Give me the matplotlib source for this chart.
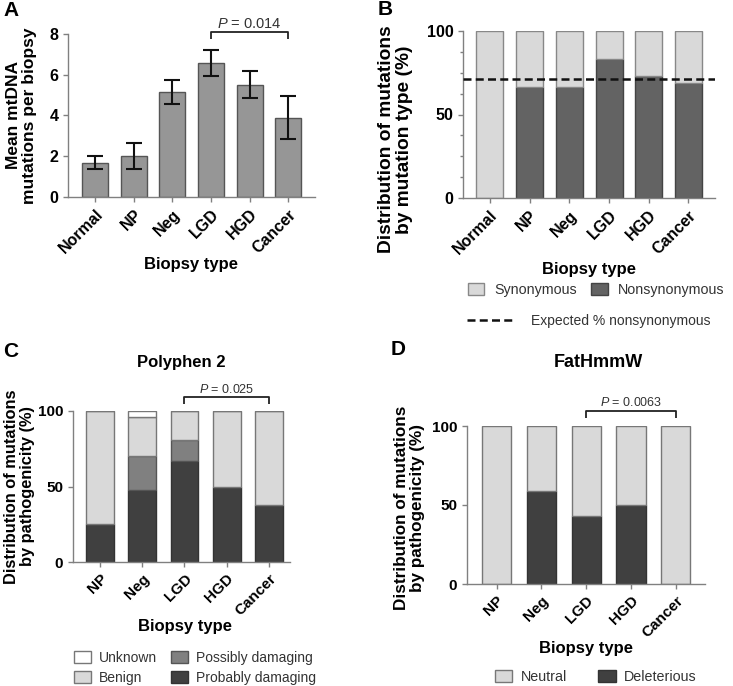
import matplotlib
matplotlib.use("Agg")
import matplotlib.pyplot as plt
from matplotlib.patches import Patch
from matplotlib.lines import Line2D
from matplotlib.ticker import MultipleLocator

plt.rcParams['font.family'] = ['Liberation Sans', 'DejaVu Sans']
plt.rcParams['mathtext.fontset'] = 'custom'
plt.rcParams['mathtext.it'] = 'Liberation Sans:italic'
plt.rcParams['mathtext.rm'] = 'Liberation Sans'

# ---------------- data ----------------
cats_a = ["Normal", "NP", "Neg", "LGD", "HGD", "Cancer"]
mean_a = [1.67, 2.01, 5.15, 6.56, 5.50, 3.88]
err_lo_a = [1.35, 1.39, 4.57, 5.92, 4.86, 2.83]
err_hi_a = [2.02, 2.63, 5.73, 7.22, 6.16, 4.95]

cats_b = ["Normal", "NP", "Neg", "LGD", "HGD", "Cancer"]
nonsyn_b = [0, 66.7, 66.7, 83, 73, 69]
syn_b = [100, 33.3, 33.3, 17, 27, 31]
expected_b = 71

cats_c = ["NP", "Neg", "LGD", "HGD", "Cancer"]
prob_c = [25, 48, 67, 50, 37.5]
poss_c = [0, 22, 14, 0, 0]
benign_c = [75, 26, 19, 50, 62.5]
unknown_c = [0, 4, 0, 0, 0]

cats_d = ["NP", "Neg", "LGD", "HGD", "Cancer"]
deleter_d = [0, 59, 43, 50, 0]
neutral_d = [100, 41, 57, 50, 100]

# ---------------- style ----------------
W, H = 733, 686
fig = plt.figure(figsize=(W / 100, H / 100), dpi=100)
AX_GRAY = '#808080'
EDGE = '#555555'
LIGHT = '#d9d9d9'
MID_A = '#969696'
DARK_B = '#636363'
DARK = '#404040'
POSS = '#808080'
TXT = '#333333'
DASH = (3.2, 1.7)


def add_ax(l, t, r, b):
    return fig.add_axes([l / W, 1 - b / H, (r - l) / W, (b - t) / H])


def style(ax, tick_fs):
    for s in ['top', 'right']:
        ax.spines[s].set_visible(False)
    for s in ['left', 'bottom']:
        ax.spines[s].set_color(AX_GRAY)
        ax.spines[s].set_linewidth(1.0)
    ax.tick_params(axis='both', which='both', colors=AX_GRAY, length=3.5, width=1.0,
                   labelcolor='black', labelsize=tick_fs)
    ax.tick_params(axis='y', which='minor', length=2.5)
    for lab in ax.get_yticklabels():
        lab.set_fontweight('bold')


def xticks(ax, cats, fs):
    ax.set_xticks(range(len(cats)))
    ax.set_xticklabels(cats, rotation=45, ha='right', rotation_mode='anchor',
                       fontweight='bold', fontsize=fs)


def bracket(ax, x0, x1, y, ydrop, ytext, txt, fs):
    ax.plot([x0, x0, x1, x1], [ydrop, y, y, ydrop], color='#222222', lw=1.3,
            clip_on=False, solid_capstyle='butt')
    ax.text((x0 + x1) / 2, ytext, txt, ha='center', va='center', fontsize=fs,
            color=TXT)


def color_texts(leg):
    for t in leg.get_texts():
        t.set_color(TXT)


# ---------------- Panel A ----------------
axA = add_ax(68, 34, 315, 197)
xa = range(len(cats_a))
axA.bar(xa, mean_a, width=0.67, color=MID_A, edgecolor=EDGE, linewidth=1.0, zorder=2)
yerr = [[m - lo for m, lo in zip(mean_a, err_lo_a)],
        [hi - m for m, hi in zip(mean_a, err_hi_a)]]
axA.errorbar(xa, mean_a, yerr=yerr, fmt='none', ecolor='#111111', elinewidth=1.5,
             capsize=6, capthick=1.5, zorder=3)
axA.set_xlim(-0.7, 5.69)
axA.set_ylim(0, 8)
axA.set_yticks([0, 2, 4, 6, 8])
xticks(axA, cats_a, 12)
style(axA, 11.5)
axA.set_ylabel("Mean mtDNA\nmutations per biopsy", fontsize=12.5, fontweight='bold',
               linespacing=1.12)
axA.yaxis.set_label_coords(-0.125, 0.5)
axA.set_xlabel("Biopsy type", fontsize=12, fontweight='bold')
axA.xaxis.set_label_coords(0.5, -0.37)
bracket(axA, 3, 5, 8.08, 7.76, 8.47, r"$\mathit{P}$ = 0.014", 10.5)

# ---------------- Panel B ----------------
axB = add_ax(463, 31, 715, 198)
xb = range(len(cats_b))
axB.bar(xb, nonsyn_b, width=0.68, color=DARK_B, edgecolor='#444444', linewidth=1.0, zorder=2)
axB.bar(xb, syn_b, bottom=nonsyn_b, width=0.68, color=LIGHT, edgecolor='#888888',
        linewidth=1.0, zorder=2)
axB.axhline(expected_b, color='#111111', lw=1.8, dashes=DASH, zorder=4)
axB.set_xlim(-0.68, 5.67)
axB.set_ylim(0, 100)
axB.set_yticks([0, 50, 100])
axB.yaxis.set_minor_locator(MultipleLocator(12.5))
xticks(axB, cats_b, 12)
style(axB, 11.5)
axB.set_ylabel("Distribution of mutations\nby mutation type (%)", fontsize=13.8,
               fontweight='bold', linespacing=1.1)
axB.yaxis.set_label_coords(-0.198, 0.35)
axB.set_xlabel("Biopsy type", fontsize=12, fontweight='bold')
axB.xaxis.set_label_coords(0.5, -0.385)

legB1 = fig.legend(handles=[Patch(facecolor=LIGHT, edgecolor='#888888', label='Synonymous'),
                            Patch(facecolor=DARK_B, edgecolor='#444444', label='Nonsynonymous')],
                   loc='center left', bbox_to_anchor=(468 / W, 1 - 290 / H), ncol=2,
                   frameon=False, fontsize=10.3, handlelength=1.15, handleheight=0.95,
                   handletextpad=0.7, columnspacing=1.0, borderpad=0, borderaxespad=0)
color_texts(legB1)
legB2 = fig.legend(handles=[Line2D([0], [0], color='#111111', lw=1.8, dashes=DASH,
                                   label='Expected % nonsynonymous')],
                   loc='center left', bbox_to_anchor=(467 / W, 1 - 321 / H),
                   frameon=False, fontsize=10, handlelength=3.3, handletextpad=1.3,
                   borderpad=0, borderaxespad=0)
color_texts(legB2)

# ---------------- Panel C ----------------
axC = add_ax(73, 411, 290, 562)
xc = range(len(cats_c))
b1 = prob_c
b2 = [a + b for a, b in zip(b1, poss_c)]
b3 = [a + b for a, b in zip(b2, benign_c)]
axC.bar(xc, prob_c, width=0.66, color=DARK, edgecolor='#333333', linewidth=1.0, zorder=2)
axC.bar(xc, poss_c, bottom=b1, width=0.66, color=POSS, edgecolor='#555555', linewidth=1.0, zorder=2)
axC.bar(xc, benign_c, bottom=b2, width=0.66, color=LIGHT, edgecolor='#777777', linewidth=1.0, zorder=2)
axC.bar(xc, unknown_c, bottom=b3, width=0.66, color='white', edgecolor='#777777', linewidth=1.0, zorder=2)
axC.set_xlim(-0.64, 4.5)
axC.set_ylim(0, 100)
axC.set_yticks([0, 50, 100])
xticks(axC, cats_c, 11.5)
style(axC, 11)
axC.set_ylabel("Distribution of mutations\nby pathogenicity (%)", fontsize=11.8,
               fontweight='bold', linespacing=1.1)
axC.yaxis.set_label_coords(-0.175, 0.5)
axC.set_xlabel("Biopsy type", fontsize=12, fontweight='bold')
axC.xaxis.set_label_coords(0.516, -0.38)
bracket(axC, 2, 4, 109.5, 104.6, 114.5, r"$\mathit{P}$ = 0.025", 9)

legC = fig.legend(handles=[Patch(facecolor='white', edgecolor='#777777', label='Unknown'),
                           Patch(facecolor=LIGHT, edgecolor='#777777', label='Benign'),
                           Patch(facecolor=POSS, edgecolor='#555555', label='Possibly damaging'),
                           Patch(facecolor=DARK, edgecolor='#333333', label='Probably damaging')],
                  loc='center left', bbox_to_anchor=(74 / W, 1 - 668 / H), ncol=2,
                  frameon=False, fontsize=10, handlelength=1.2, handleheight=0.95,
                  handletextpad=0.6, columnspacing=1.0, labelspacing=0.4,
                  borderpad=0, borderaxespad=0)
color_texts(legC)

# ---------------- Panel D ----------------
axD = add_ax(467, 426, 705, 584)
xd = range(len(cats_d))
axD.bar(xd, deleter_d, width=0.65, color=DARK, edgecolor='#333333', linewidth=1.0, zorder=2)
axD.bar(xd, neutral_d, bottom=deleter_d, width=0.65, color=LIGHT, edgecolor='#777777',
        linewidth=1.0, zorder=2)
axD.set_xlim(-0.66, 4.65)
axD.set_ylim(0, 100)
axD.set_yticks([0, 50, 100])
xticks(axD, cats_d, 11.5)
style(axD, 11)
axD.set_ylabel("Distribution of mutations\nby pathogenicity (%)", fontsize=12.3,
               fontweight='bold', linespacing=1.1)
axD.yaxis.set_label_coords(-0.176, 0.48)
axD.set_xlabel("Biopsy type", fontsize=12, fontweight='bold')
axD.xaxis.set_label_coords(0.5, -0.36)
bracket(axD, 2, 4, 109.5, 105, 114.7, r"$\mathit{P}$ = 0.0063", 9)

legD = fig.legend(handles=[Patch(facecolor=LIGHT, edgecolor='#777777', label='Neutral'),
                           Patch(facecolor=DARK, edgecolor='#333333', label='Deleterious')],
                  loc='center left', bbox_to_anchor=(495 / W, 1 - 677 / H), ncol=2,
                  frameon=False, fontsize=10.3, handlelength=1.2, handleheight=0.95,
                  handletextpad=0.6, columnspacing=2.2, borderpad=0, borderaxespad=0)
color_texts(legD)

# ---------------- titles & panel letters ----------------
fig.text(181 / W, 1 - 362 / H, "Polyphen 2", ha='center', va='center', fontsize=12,
         fontweight='bold')
fig.text(598 / W, 1 - 362 / H, "FatHmmW", ha='center', va='center', fontsize=13,
         fontweight='bold')
for lab, x, y in [("A", 3, 1), ("B", 378, 0), ("C", 3, 342), ("D", 391, 340)]:
    fig.text(x / W, 1 - y / H, lab, ha='left', va='top', fontsize=15, fontweight='bold')

fig.savefig("out.png", dpi=100)
